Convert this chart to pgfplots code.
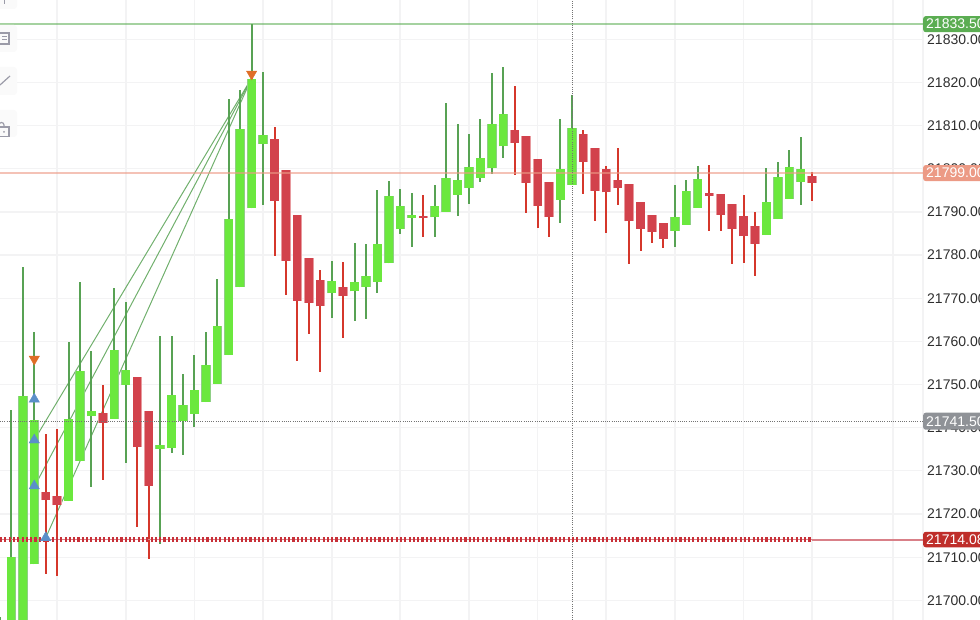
\documentclass[border=0pt]{standalone}
\usepackage{fontspec}
\setmainfont{Liberation Sans}
\usepackage{pgfplots}
\usepackage{pgfplotstable}
\pgfplotsset{compat=1.18}

\definecolor{bodygreen}{HTML}{6BE83E}
\definecolor{edgegreen}{HTML}{8FCF85}
\definecolor{wickgreen}{HTML}{58A254}
\definecolor{bodyred}{HTML}{D2424C}
\definecolor{edgered}{HTML}{E89A9E}
\definecolor{wickred}{HTML}{D5372B}
\definecolor{gridgray}{HTML}{F3F3F4}
\definecolor{trigblue}{HTML}{5B8FC9}
\definecolor{trigorange}{HTML}{DF6E27}
\definecolor{taggreen}{HTML}{5BAD52}
\definecolor{tagsalmon}{HTML}{EC9A85}
\definecolor{taggray}{HTML}{8F9297}
\definecolor{tagred}{HTML}{BF2E2A}
\definecolor{dashred}{HTML}{C83038}
\definecolor{linered}{HTML}{D98088}
\definecolor{iconin}{HTML}{9B9BA8}

% i low bot top high
\pgfplotstableread{
i low bot top high
-1 21690 21690 21692 21696.1
0 21690 21690 21710.0 21744.1
1 21690 21690 21747.3 21777.2
2 21708.35 21708.35 21741.7 21762.1
5 21723.0 21723.0 21742.0 21759.8
6 21732.4 21732.4 21753.1 21773.8
7 21726.3 21742.7 21743.9 21757.8
9 21742.1 21742.1 21758.0 21772.4
10 21731.75 21750.0 21753.4 21769.1
13 21713.1 21735.1 21735.9 21761.2
14 21734.1 21735.4 21747.65 21761.3
15 21733.7 21741.5 21745.2 21752.4
16 21740.1 21743.25 21748.7 21756.8
17 21745.9 21745.9 21754.5 21762.1
18 21750.2 21750.2 21763.5 21774.4
19 21756.8 21756.8 21788.4 21816.1
20 21772.5 21772.5 21809.2 21818.25
21 21790.8 21790.8 21820.8 21833.5
22 21791.6 21805.8 21807.9 21822.4
28 21765.35 21771.1 21774.0 21778.6
30 21764.8 21771.6 21773.7 21782.9
31 21765.3 21772.6 21775.1 21782.6
32 21771.1 21773.8 21782.6 21795.1
33 21778.1 21778.1 21793.8 21797.1
34 21784.9 21786.0 21791.4 21795.4
35 21781.9 21788.6 21789.2 21794.3
37 21784.1 21788.75 21791.4 21796.2
38 21790.05 21790.05 21797.9 21815.2
39 21789.1 21794.0 21797.3 21810.3
40 21791.9 21795.6 21800.3 21808.1
41 21796.9 21797.9 21802.4 21811.6
42 21798.8 21800.1 21810.3 21822.1
43 21802.4 21805.2 21812.6 21823.65
48 21787.4 21792.8 21799.9 21811.6
49 21796.3 21796.3 21809.4 21817.1
58 21781.8 21785.6 21788.75 21796.2
59 21787.0 21787.0 21794.8 21797.3
60 21791.0 21791.0 21797.6 21800.6
66 21784.6 21784.6 21792.2 21800.1
67 21788.3 21788.3 21798.0 21801.6
68 21793.1 21793.1 21800.5 21804.3
69 21791.7 21796.9 21799.9 21807.4
}\greencandles

\pgfplotstableread{
i low bot top high
3 21706.0 21723.25 21725.0 21738.5
4 21705.7 21722.0 21724.2 21739.6
8 21727.8 21741.1 21743.3 21749.8
11 21717.1 21735.5 21751.8 21751.8
12 21709.5 21726.6 21743.8 21743.8
23 21779.85 21792.5 21806.9 21809.6
24 21770.75 21778.7 21799.8 21799.8
25 21755.5 21769.4 21789.2 21789.2
26 21761.8 21768.9 21779.4 21779.4
27 21752.8 21768.1 21774.2 21776.6
29 21760.9 21770.6 21772.6 21778.3
36 21784.1 21788.6 21789.0 21793.85
44 21798.55 21806.0 21808.9 21819.1
45 21789.8 21796.8 21807.5 21807.5
46 21786.3 21791.4 21802.2 21802.2
47 21784.1 21788.9 21796.9 21796.9
50 21794.15 21801.6 21808.0 21808.9
51 21787.8 21794.85 21804.9 21804.9
52 21785.2 21794.5 21799.9 21800.6
53 21791.7 21795.5 21797.3 21804.7
54 21777.9 21787.8 21796.5 21796.5
55 21781.0 21786.1 21792.2 21792.2
56 21782.9 21785.35 21789.2 21789.2
57 21781.6 21783.8 21787.4 21787.4
61 21785.65 21793.7 21794.3 21800.8
62 21785.65 21789.3 21794.1 21794.1
63 21777.9 21786.1 21791.8 21791.8
64 21778.2 21784.4 21789.0 21793.85
65 21775.1 21782.6 21786.8 21790.05
70 21792.6 21796.8 21798.3 21799.2
}\redcandles

\pgfplotsset{
  wick/.style={no markers, draw=none, forget plot,
    error bars/.cd, y dir=both, y explicit, error mark=none,
    error bar style={line width=2pt, draw=#1}},
  body/.style 2 args={no markers, draw=none, forget plot,
    error bars/.cd, y dir=plus, y explicit, error mark=none,
    error bar style={line width=#2, draw=#1}},
  trend/.style={wickgreen, line width=1pt, opacity=0.85, forget plot},
}
\newcommand{\tag}[4]{\node[fill=#1, rounded corners=2.5pt, minimum height=#3, minimum width=70pt,
  anchor=west, inner xsep=3pt, inner ysep=0pt, text=white, text width=64pt, align=left,
  font=\fontsize{14}{14}\selectfont] at (#2) {#4};}

\begin{document}
\begin{tikzpicture}
\useasboundingbox (0,0) rectangle (980pt,620pt);
\clip (0,0) rectangle (980pt,620pt);
\begin{axis}[
    at={(0,0)}, anchor=south west,
    scale only axis,
    width=923pt, height=620pt,
    xmin=-0.9965, xmax=79.69,
    ymin=21695.45, ymax=21839.1,
    axis line style={draw=none},
    major tick length=0pt,
    grid=major,
    x grid style={gridgray, line width=1.7pt},
    y grid style={gridgray, line width=1.2pt},
    xtick={4,10,16,22,28,34,40,46,52,58,64,70,77.06,79.69},
    xticklabels={},
    ytick={21700,21710,...,21830},
    scaled y ticks=false,
    yticklabel pos=right,
    yticklabel style={anchor=west, inner sep=0pt, xshift=4pt, text=black!82,
      /pgf/number format/fixed, /pgf/number format/fixed zerofill,
      /pgf/number format/precision=2, /pgf/number format/1000 sep={},
      /pgf/number format/assume math mode=true,
      font=\fontsize{14}{14}\selectfont},
]
% trend lines into the last signal
\addplot[trend] coordinates {(2,21737.15) (21,21821.0)};
\addplot[trend] coordinates {(2,21726.3) (21,21821.0)};
\addplot[trend] coordinates {(3,21714.5) (21,21821.0)};

% candles
\addplot[wick=wickgreen] table[x=i, y=bot, y error plus expr=\thisrow{high}-\thisrow{bot}, y error minus expr=\thisrow{bot}-\thisrow{low}] {\greencandles};
\addplot[wick=wickred] table[x=i, y=bot, y error plus expr=\thisrow{high}-\thisrow{bot}, y error minus expr=\thisrow{bot}-\thisrow{low}] {\redcandles};
\addplot[body={edgegreen}{9.4pt}] table[x=i, y=bot, y error plus expr=\thisrow{top}-\thisrow{bot}] {\greencandles};
\addplot[body={edgered}{9.4pt}] table[x=i, y=bot, y error plus expr=\thisrow{top}-\thisrow{bot}] {\redcandles};
\addplot[body={bodygreen}{8.2pt}] table[x=i, y=bot, y error plus expr=\thisrow{top}-\thisrow{bot}] {\greencandles};
\addplot[body={bodyred}{8.2pt}] table[x=i, y=bot, y error plus expr=\thisrow{top}-\thisrow{bot}] {\redcandles};

% price lines
\addplot[forget plot, taggreen, opacity=0.55, line width=1.6pt] coordinates {(-0.9965,21833.5) (79.69,21833.5)};
\addplot[forget plot, tagsalmon, opacity=0.6, line width=1.8pt] coordinates {(-0.9965,21799) (79.69,21799)};
\addplot[forget plot, black!55, line width=0.8pt, dash pattern=on 1pt off 1.2pt] coordinates {(-0.9965,21741.5) (79.69,21741.5)};
\addplot[forget plot, black!55, line width=0.8pt, dash pattern=on 1pt off 1.2pt] coordinates {(49,21695.45) (49,21839.1)};
\addplot[forget plot, solid, draw=linered, line width=1.6pt] coordinates {(-0.9965,21714.08) (70,21714.08)};
\addplot[forget plot, draw=dashred, line width=5pt, dash pattern=on 2.1pt off 2.2pt] coordinates {(-0.9965,21714.08) (70,21714.08)};
\addplot[forget plot, solid, draw=linered, line width=2pt] coordinates {(70,21714.08) (79.69,21714.08)};

% signals
\addplot[forget plot, only marks, trigblue, mark=triangle*, mark size=6pt, mark options={trigblue}]
  coordinates {(2,21746.6) (2,21737.15) (2,21726.5) (3,21714.5)};
\addplot[forget plot, only marks, trigorange, mark=triangle*, mark size=6pt, mark options={trigorange, rotate=180}]
  coordinates {(2,21755.9) (21,21821.95)};

\coordinate (ta) at (axis cs:79.69,21833.5);
\coordinate (tb) at (axis cs:79.69,21799);
\coordinate (tc) at (axis cs:79.69,21741.5);
\coordinate (td) at (axis cs:79.69,21714.08);
\end{axis}

% price tags
\tag{taggreen}{ta}{16pt}{21833.50}
\tag{tagsalmon}{tb}{16pt}{21799.00}
\tag{taggray}{tc}{17pt}{21741.50}
\tag{tagred}{td}{15.5pt}{21714.08}

% left toolbar, cut by the edge
\fill[black!2, rounded corners=3pt] (-6pt,611pt) rectangle (17pt,630pt);
\fill[black!2, rounded corners=3pt] (-6pt,568pt) rectangle (17pt,595pt);
\fill[black!2, rounded corners=3pt] (-6pt,525pt) rectangle (17pt,553pt);
\fill[black!2, rounded corners=3pt] (-6pt,483pt) rectangle (17pt,510pt);
\draw[iconin, line width=1.3pt] (4.5pt,616pt) -- (4.5pt,620pt);
\draw[iconin, line width=1.3pt] (-2pt,576pt) rectangle (9pt,587pt);
\draw[iconin, line width=1pt] (2pt,583pt) -- (7pt,583pt) (2pt,580pt) -- (7pt,580pt);
\draw[iconin, line width=1.2pt] (0pt,535pt) -- (10pt,544pt);
\draw[iconin, line width=1.2pt] (-2pt,483.5pt) rectangle (9pt,493pt);
\draw[iconin, line width=1.2pt] (-1pt,493pt) -- (-1pt,495pt) arc (180:0:2.5pt) -- (4pt,494pt);
\fill[iconin] (4pt,488pt) circle (1pt);
\end{tikzpicture}
\end{document}
